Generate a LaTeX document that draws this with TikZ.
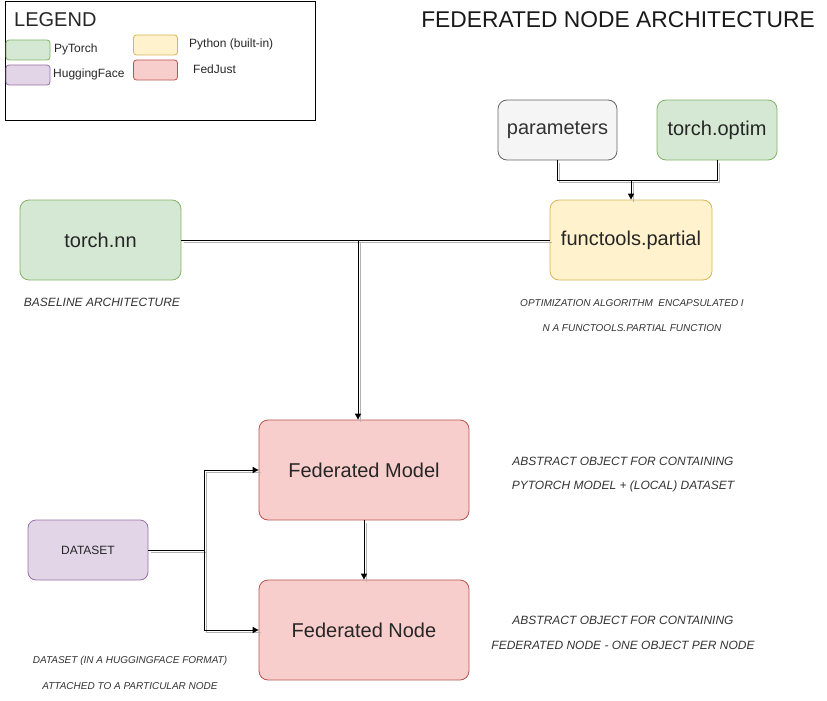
\documentclass[tikz,border=0pt]{standalone}
\usepackage{fontspec}
\setmainfont{Liberation Sans}
\usetikzlibrary{arrows.meta}
\definecolor{grnF}{HTML}{D5E8D4}\definecolor{grnD}{HTML}{82B366}
\definecolor{ylwF}{HTML}{FFF2CC}\definecolor{ylwD}{HTML}{D6B656}
\definecolor{redF}{HTML}{F8CECC}\definecolor{redD}{HTML}{B85450}
\definecolor{purF}{HTML}{E1D5E7}\definecolor{purD}{HTML}{9673A6}
\definecolor{gryF}{HTML}{F5F5F5}\definecolor{gryD}{HTML}{666666}
\definecolor{txt}{HTML}{333333}
\tikzset{
  box/.style={rounded corners=9pt, inner sep=0pt, line width=0.8pt, font=\fontsize{20}{23}\selectfont, text=black!85},
  swatch/.style={rounded corners=3pt, inner sep=0pt, line width=0.8pt, minimum width=44pt, minimum height=20pt},
  legtxt/.style={font=\fontsize{12}{14}\selectfont, text=black!85, anchor=west, inner sep=0pt},
  note/.style={font=\fontsize{12}{14}\itshape\selectfont, text=txt, inner sep=0pt},
  smallnote/.style={font=\fontsize{10}{12}\itshape\selectfont, text=txt, inner sep=0pt},
  conn/.style={line width=1pt},
  arr/.style={-{Triangle[length=6pt,width=6pt]}},
}
\newcommand{\myconns}{%
  \draw[conn] (params.south) |- (j1);
  \draw[conn] (optim.south) |- (j1);
  \draw[conn, arr] (j1) -- (partial.north);
  \draw[conn] (nn.east) -- (j2);
  \draw[conn] (partial.west) -- (j2);
  \draw[conn, arr] (j2) -- (j2 |- fm.north);
  \draw[conn, arr] (fm.south) -- (fn.north);
  \draw[conn] (ds.east) -- (j3);
  \draw[conn, arr] (j3) |- (fm.west);
  \draw[conn, arr] (j3) |- (fn.west);
}
\begin{document}
\begin{tikzpicture}[x=1pt,y=-1pt]
\useasboundingbox (0,0) rectangle (827,701);
% legend
\node[draw=black, line width=0.9pt, minimum width=310pt, minimum height=119pt, inner sep=0pt] (legend) at (160,60.5) {};
\node[anchor=west, inner sep=0pt, font=\fontsize{20}{23}\selectfont, text=black!85] (legtitle) at (14,20) {LEGEND};
\node[swatch, fill=grnF, draw=grnD] (sw1) at (28,50) {};
\node[swatch, fill=purF, draw=purD] (sw2) at (28,75) {};
\node[swatch, fill=ylwF, draw=ylwD] (sw3) at (155.5,45) {};
\node[swatch, fill=redF, draw=redD] (sw4) at (155.5,70) {};
\node[legtxt] (l1) at (54,49) {PyTorch};
\node[legtxt] (l2) at (53,74) {HuggingFace};
\node[legtxt] (l3) at (189,44) {Python (built-in)};
\node[legtxt] (l4) at (193,69) {FedJust};
% title
\node[anchor=east, inner sep=0pt, font=\fontsize{22.8}{26}\selectfont, text=black!90] (title) at (815,20) {FEDERATED NODE ARCHITECTURE};
% main boxes
\node[box, fill=gryF, draw=gryD, text=txt, minimum width=119pt, minimum height=60pt] (params) at (557.5,130) {parameters};
\node[box, fill=grnF, draw=grnD, minimum width=120pt, minimum height=60pt] (optim) at (717,130) {torch.optim};
\node[box, fill=ylwF, draw=ylwD, minimum width=162pt, minimum height=80pt] (partial) at (631,240) {functools.partial};
\node[box, fill=grnF, draw=grnD, minimum width=161pt, minimum height=80pt] (nn) at (100.5,240) {torch.nn};
\node[box, fill=redF, draw=redD, minimum width=210pt, minimum height=100pt] (fm) at (364,470) {Federated Model};
\node[box, fill=redF, draw=redD, minimum width=210pt, minimum height=100pt] (fn) at (364,630) {Federated Node};
\node[box, fill=purF, draw=purD, minimum width=120pt, minimum height=60pt, rounded corners=8pt, font=\fontsize{12}{14}\selectfont] (ds) at (88,550) {DATASET};
% notes
\node[note] (n1) at (102,302) {BASELINE ARCHITECTURE};
\node[smallnote] (n2) at (632,303) {OPTIMIZATION ALGORITHM\ \ ENCAPSULATED I};
\node[smallnote] (n3) at (632,328) {N A FUNCTOOLS.PARTIAL FUNCTION};
\node[note] (n4) at (623,461) {ABSTRACT OBJECT FOR CONTAINING};
\node[note] (n5) at (623,486) {PYTORCH MODEL + (LOCAL) DATASET};
\node[note] (n6) at (623,620) {ABSTRACT OBJECT FOR CONTAINING};
\node[note] (n7) at (623,645) {FEDERATED NODE - ONE OBJECT PER NODE};
\node[smallnote] (n8) at (130,661) {DATASET (IN A HUGGINGFACE FORMAT)};
\node[smallnote] (n9) at (130,686) {ATTACHED TO A PARTICULAR NODE};
% connectors
\coordinate (j1) at (631,180);
\coordinate (j2) at (358,240);
\coordinate (j3) at (204,550);
\begin{scope}[transform canvas={xshift=2.2pt,yshift=-2.4pt}]
  \tikzset{arr/.style={}, conn/.style={line width=1pt, draw=black!30}}
  \myconns
\end{scope}
\myconns
\end{tikzpicture}
\end{document}
